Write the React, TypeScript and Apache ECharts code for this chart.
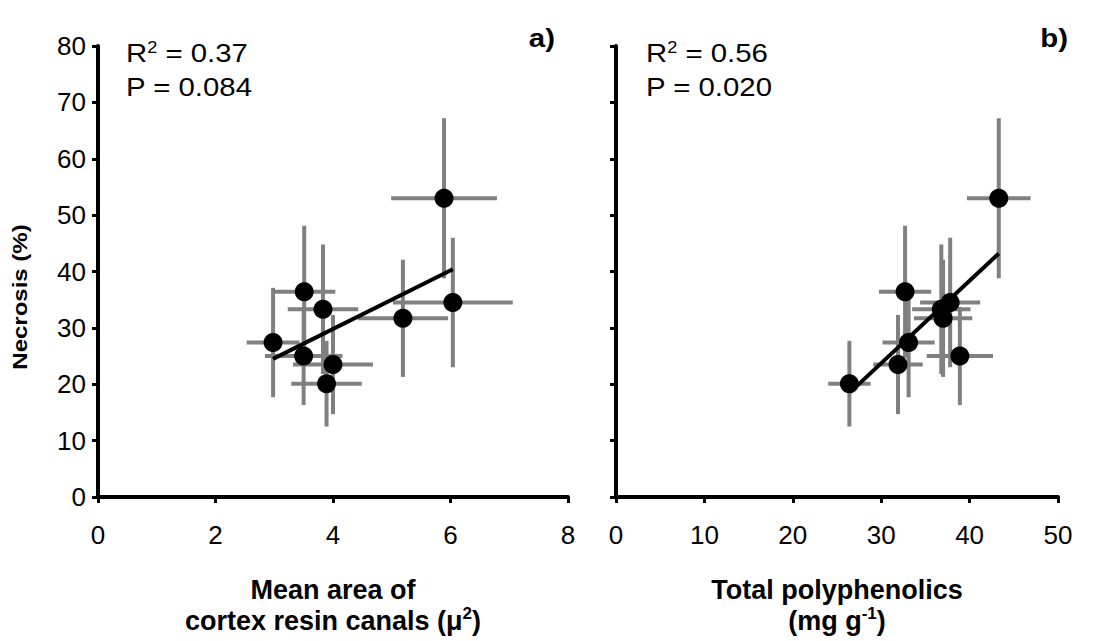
import React, { useEffect, useRef } from "react";
import * as echarts from "echarts";

// Per-genotype values (shared y)
const yMean = [27.4, 36.4, 33.3, 25.0, 23.5, 20.1, 31.7, 34.5, 53.0];
const yErr = [9.7, 11.7, 11.5, 8.7, 8.8, 7.6, 10.4, 11.5, 14.2];
// Panel a: mean area of cortex resin canals
const areaMean = [2.98, 3.51, 3.83, 3.5, 4.0, 3.89, 5.19, 6.04, 5.89];
const areaErr = [0.45, 0.53, 0.6, 0.66, 0.68, 0.6, 0.77, 1.02, 0.9];
// Panel b: total polyphenolics
const polyMean = [33.1, 32.7, 36.8, 38.9, 31.9, 26.4, 37.0, 37.8, 43.3];
const polyErr = [2.95, 2.95, 3.3, 3.75, 2.8, 2.4, 3.3, 3.4, 3.6];
// Regression line endpoints
const regA = [[2.98, 24.5], [6.04, 40.4]];
const regB = [[26.5, 18.6], [43.3, 43.2]];
// Statistics text
const statsA = ["0.37", "0.084"];
const statsB = ["0.56", "0.020"];

const FONT = "Liberation Sans, Arial, sans-serif";
const SX = 1.13;

function errRender(params: any, api: any) {
  const x = api.value(0), y = api.value(1), xe = api.value(2), ye = api.value(3);
  const l = api.coord([x - xe, y]), r = api.coord([x + xe, y]);
  const t = api.coord([x, y + ye]), b = api.coord([x, y - ye]);
  const style = { stroke: "#808080", lineWidth: 4, lineCap: "butt" };
  return {
    type: "group",
    children: [
      { type: "line", shape: { x1: l[0], y1: l[1], x2: r[0], y2: r[1] }, style },
      { type: "line", shape: { x1: t[0], y1: t[1], x2: b[0], y2: b[1] }, style },
    ],
  };
}

const axisLineStyle = { color: "#000", width: 4 };

function xAxisCfg(gi: number, max: number, interval: number, name: string) {
  return {
    gridIndex: gi,
    type: "value",
    min: 0,
    max,
    interval,
    axisLine: { show: true, onZero: false, lineStyle: axisLineStyle },
    axisTick: { show: true, length: 6, lineStyle: { color: "#000", width: 3 } },
    axisLabel: { fontSize: 26, color: "#000", fontFamily: FONT, margin: 25 },
    splitLine: { show: false },
    name,
    nameLocation: "middle",
    nameGap: 77,
    nameTextStyle: {
      fontSize: 27,
      fontWeight: "bold",
      color: "#000",
      fontFamily: FONT,
      lineHeight: 31,
      verticalAlign: "top",
      rich: {
        b: { fontSize: 27, fontWeight: "bold", color: "#000", fontFamily: FONT, lineHeight: 31 },
        sup: { fontSize: 17, fontWeight: "bold", color: "#000", fontFamily: FONT, verticalAlign: "top", lineHeight: 31 },
      },
    },
  };
}

function yAxisCfg(gi: number, showLabels: boolean) {
  return {
    gridIndex: gi,
    type: "value",
    min: 0,
    max: 80,
    interval: 10,
    axisLine: { show: true, onZero: false, lineStyle: axisLineStyle },
    axisTick: { show: true, length: 6, lineStyle: { color: "#000", width: 3 } },
    axisLabel: { show: showLabels, fontSize: 26, color: "#000", fontFamily: FONT, margin: 12 },
    splitLine: { show: false },
  };
}

function statText(x: number, vals: string[]) {
  const rich = {
    n: { fontSize: 26, fontFamily: FONT, fill: "#000" },
    sup: { fontSize: 16, fontFamily: FONT, fill: "#000", verticalAlign: "top", padding: [0, 0, 10, 0] },
  };
  return [
    {
      type: "text",
      x,
      y: 53,
      scaleX: SX,
      style: { text: "{n|R}{sup|2}{n| = " + vals[0] + "}", rich, verticalAlign: "middle", align: "left", font: "26px " + FONT },
    },
    {
      type: "text",
      x,
      y: 87,
      scaleX: SX,
      style: { text: "P = " + vals[1], font: "26px " + FONT, fill: "#000", verticalAlign: "middle", align: "left" },
    },
  ];
}

export default function App() {
  const ref = useRef<HTMLDivElement>(null);
  useEffect(() => {
    if (!ref.current) return;
    const chart = echarts.init(ref.current, null, { renderer: "svg" });
    const dataA = areaMean.map((x, i) => [x, yMean[i], areaErr[i], yErr[i]]);
    const dataB = polyMean.map((x, i) => [x, yMean[i], polyErr[i], yErr[i]]);
    chart.setOption({
      animation: false,
      backgroundColor: "#fff",
      grid: [
        { left: 98, top: 46, width: 470, height: 452 },
        { left: 616, top: 46, width: 442, height: 452 },
      ],
      xAxis: [
        xAxisCfg(0, 8, 2, "{b|Mean area of}\n{b|cortex resin canals (μ}{sup|2}{b|)}"),
        xAxisCfg(1, 50, 10, "{b|Total polyphenolics}\n{b|(mg g}{sup|-1}{b|)}"),
      ],
      yAxis: [yAxisCfg(0, true), yAxisCfg(1, false)],
      series: [
        {
          type: "custom", xAxisIndex: 0, yAxisIndex: 0, data: dataA, renderItem: errRender,
          encode: { x: 0, y: 1 }, z: 1, clip: false,
        },
        {
          type: "custom", xAxisIndex: 1, yAxisIndex: 1, data: dataB, renderItem: errRender,
          encode: { x: 0, y: 1 }, z: 1, clip: false,
        },
        {
          type: "line", xAxisIndex: 0, yAxisIndex: 0, data: regA, symbol: "none",
          lineStyle: { color: "#000", width: 4, cap: "butt" }, z: 3,
        },
        {
          type: "line", xAxisIndex: 1, yAxisIndex: 1, data: regB, symbol: "none",
          lineStyle: { color: "#000", width: 4, cap: "butt" }, z: 3,
        },
        {
          type: "scatter", xAxisIndex: 0, yAxisIndex: 0, symbolSize: 19,
          data: areaMean.map((x, i) => [x, yMean[i]]), itemStyle: { color: "#000", opacity: 1 }, z: 4,
        },
        {
          type: "scatter", xAxisIndex: 1, yAxisIndex: 1, symbolSize: 19,
          data: polyMean.map((x, i) => [x, yMean[i]]), itemStyle: { color: "#000", opacity: 1 }, z: 4,
        },
      ],
      graphic: [
        ...statText(126, statsA),
        ...statText(646, statsB),
        {
          type: "text", x: 555, y: 38, scaleX: SX,
          style: { text: "a)", font: "bold 26px " + FONT, fill: "#000", align: "right", verticalAlign: "middle" },
        },
        {
          type: "text", x: 1068, y: 38, scaleX: SX,
          style: { text: "b)", font: "bold 26px " + FONT, fill: "#000", align: "right", verticalAlign: "middle" },
        },
        {
          type: "text", x: 20, y: 297, rotation: Math.PI / 2, scaleX: 1.2,
          style: { text: "Necrosis (%)", font: "bold 20px " + FONT, fill: "#000", align: "center", verticalAlign: "middle" },
        },
      ],
    });
    return () => chart.dispose();
  }, []);
  return (
    <div
      ref={ref}
      style={{ position: "fixed", left: 0, top: 0, width: 1106, height: 641, background: "#fff" }}
    />
  );
}
